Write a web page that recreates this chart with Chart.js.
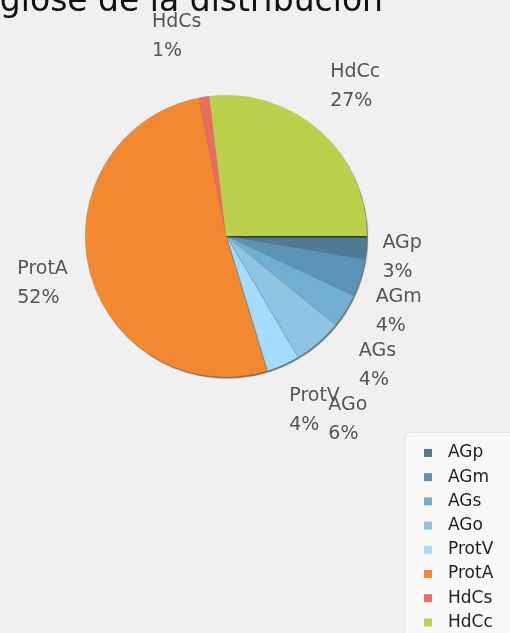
<!DOCTYPE html>
<html>
<head>
<meta charset="utf-8">
<script src="https://cdn.jsdelivr.net/npm/chart.js@4/dist/chart.umd.min.js"></script>
<style>
  html, body { margin: 0; padding: 0; background: #f0f0f0; }
  #wrap { position: relative; width: 510px; height: 633px; }
</style>
</head>
<body>
<div id="wrap"><canvas id="pieChart" width="510" height="633"></canvas></div>
<script>
// data (percent of total)
const categories = ['AGp', 'AGm', 'AGs', 'AGo', 'ProtV', 'ProtA', 'HdCs', 'HdCc'];
const shares = [2.7, 4.3, 3.9, 5.6, 3.8, 51.6, 1.2, 26.9];
const sliceColors = ['#4f7a93', '#5a93b5', '#70aed2', '#8fc4e3', '#a4dcfb', '#f2882f', '#e86d5e', '#bdd04b'];
const titleText = 'Desglose de la distribución';

// title, partly cut off at the top-left like the original
const titlePlugin = {
    id: 'cutTitle',
    afterDraw(chart) {
        const ctx = chart.ctx;
        ctx.save();
        ctx.font = '33px "DejaVu Sans"';
        ctx.fillStyle = '#111';
        ctx.textAlign = 'right';
        ctx.textBaseline = 'alphabetic';
        ctx.fillText(titleText, 383, 11);
        ctx.restore();
    }
};

// thin dark shadow along the pie edge
const pieShadow = {
    id: 'pieShadow',
    beforeDatasetsDraw(chart) {
        const ctx = chart.ctx;
        ctx.save();
        ctx.shadowColor = 'rgba(0, 0, 0, 0.55)';
        ctx.shadowOffsetX = 1;
        ctx.shadowOffsetY = 1.5;
        ctx.shadowBlur = 1;
    },
    afterDatasetsDraw(chart) {
        chart.ctx.restore();
    }
};

// name + percent labels outside the slices
const outsideLabels = {
    id: 'outsideLabels',
    afterDraw(chart) {
        const ctx = chart.ctx;
        const meta = chart.getDatasetMeta(0);
        const total = shares.reduce((a, b) => a + b, 0);
        const lineGap = 29;
        const blockH = 54;
        let lastBottom = -Infinity;
        ctx.save();
        ctx.font = '19px "DejaVu Sans"';
        ctx.fillStyle = '#555';
        ctx.textBaseline = 'middle';
        ctx.textAlign = 'left';
        meta.data.forEach((arc, i) => {
            const mid = (arc.startAngle + arc.endAngle) / 2;
            const cos = Math.cos(mid), sin = Math.sin(mid);
            const R = arc.outerRadius + (cos < 0 && Math.abs(sin) < 0.5 ? 22 : 16);
            let x = arc.x + R * cos;
            const y = arc.y + R * sin;
            let top = y - 22 + (sin < 0 ? sin * 50 : sin * 28);
            if (cos < 0 && Math.abs(sin) < 0.5) top -= 4;
            // lower right labels get pushed down so they do not overlap
            if (cos > 0 && sin >= 0 && sin < 0.85) {
                if (top < lastBottom) top = lastBottom;
                lastBottom = top + blockH;
            }
            const pct = Math.round(shares[i] / total * 100) + '%';
            if (cos < 0) {
                const w = Math.max(ctx.measureText(categories[i]).width, ctx.measureText(pct).width);
                x -= w;
            }
            ctx.fillText(categories[i], x, top + 13);
            ctx.fillText(pct, x, top + 13 + lineGap);
        });
        ctx.restore();
    }
};

// legend box at the bottom-right corner
const cornerLegend = {
    id: 'cornerLegend',
    afterDraw(chart) {
        const ctx = chart.ctx;
        ctx.save();
        ctx.fillStyle = '#f8f8f8';
        ctx.strokeStyle = '#e6e6e6';
        ctx.beginPath();
        ctx.roundRect(405.5, 432.5, 120, 220, 6);
        ctx.fill();
        ctx.stroke();
        ctx.font = '17px "DejaVu Sans"';
        ctx.textAlign = 'left';
        ctx.textBaseline = 'middle';
        categories.forEach((name, i) => {
            const cy = 453 + i * 24.2;
            ctx.fillStyle = sliceColors[i];
            ctx.fillRect(424, cy - 4, 8, 8);
            ctx.fillStyle = '#222';
            ctx.fillText(name, 448, cy);
        });
        ctx.restore();
    }
};

new Chart(document.getElementById('pieChart').getContext('2d'), {
    type: 'pie',
    data: {
        labels: categories,
        datasets: [{
            data: shares,
            backgroundColor: sliceColors,
            borderWidth: 0
        }]
    },
    options: {
        responsive: false,
        animation: false,
        rotation: 90,
        layout: {
            padding: { left: 85, right: 143, top: 95, bottom: 256 }
        },
        plugins: {
            legend: { display: false },
            title: { display: false },
            tooltip: { enabled: false }
        }
    },
    plugins: [titlePlugin, pieShadow, outsideLabels, cornerLegend]
});
</script>
</body>
</html>
